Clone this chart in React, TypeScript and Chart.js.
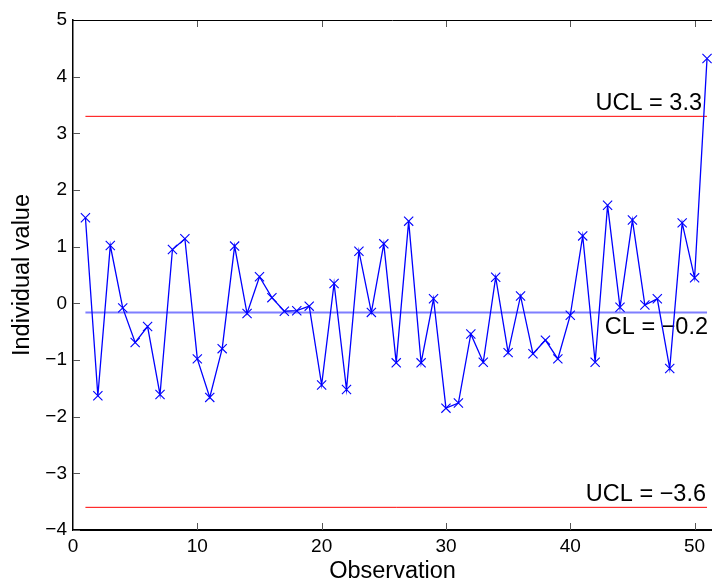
import React, { useEffect, useRef } from "react";
import { Chart, registerables } from "chart.js";

Chart.register(...registerables);

const observations = [
  1, 2, 3, 4, 5, 6, 7, 8, 9, 10, 11, 12, 13, 14, 15, 16, 17, 18, 19, 20,
  21, 22, 23, 24, 25, 26, 27, 28, 29, 30, 31, 32, 33, 34, 35, 36, 37, 38, 39, 40,
  41, 42, 43, 44, 45, 46, 47, 48, 49, 50, 51,
];

const individualValues = [
  1.51, -1.63, 1.02, -0.08, -0.69, -0.41, -1.61, 0.95, 1.14, -0.98,
  -1.66, -0.8, 1.01, -0.18, 0.47, 0.1, -0.14, -0.13, -0.05, -1.44,
  0.35, -1.52, 0.92, -0.16, 1.05, -1.05, 1.45, -1.05, 0.08, -1.85,
  -1.76, -0.54, -1.04, 0.46, -0.87, 0.13, -0.89, -0.65, -0.98, -0.21,
  1.19, -1.04, 1.73, -0.07, 1.47, -0.03, 0.08, -1.15, 1.42, 0.45, 4.32,
];

const upperLimit = 3.3;
const centerLine = -0.16;
const lowerLimit = -3.6;

const limitLabels = ["UCL = 3.3", "CL = \u22120.2", "UCL = \u22123.6"];

const xTickValues = [0, 10, 20, 30, 40, 50];
const yTickValues = [-4, -3, -2, -1, 0, 1, 2, 3, 4, 5];

const FONT = "'Liberation Sans', Arial, Helvetica, sans-serif";

const overlayPlugin = {
  id: "overlay",
  beforeDatasetsDraw(chart: any) {
    const { ctx, scales } = chart;
    const xs = scales.x;
    const ys = scales.y;
    const last = observations[observations.length - 1];
    ctx.save();
    ctx.font = `23.5px ${FONT}`;
    ctx.fillStyle = "#000";
    ctx.textAlign = "right";
    ctx.textBaseline = "alphabetic";
    const xr = xs.getPixelForValue(last);
    ctx.fillText(limitLabels[0], xr - 5, ys.getPixelForValue(upperLimit) - 6);
    ctx.fillText(limitLabels[1], xr + 1, ys.getPixelForValue(centerLine) + 22);
    ctx.fillText(limitLabels[2], xr - 1, ys.getPixelForValue(lowerLimit) - 6);
    ctx.restore();
  },
  afterDraw(chart: any) {
    const { ctx, chartArea, scales } = chart;
    const xs = scales.x;
    const ys = scales.y;
    ctx.save();
    ctx.strokeStyle = "#555";
    ctx.lineWidth = 1;
    const tl = 7;
    for (const v of yTickValues) {
      const y = Math.round(ys.getPixelForValue(v)) + 0.5;
      ctx.beginPath();
      ctx.moveTo(chartArea.left, y);
      ctx.lineTo(chartArea.left + tl, y);
      ctx.stroke();
    }
    for (const v of xTickValues) {
      if (v === 0) continue;
      const x = Math.round(xs.getPixelForValue(v)) + 0.5;
      ctx.beginPath();
      ctx.moveTo(x, chartArea.bottom);
      ctx.lineTo(x, chartArea.bottom - tl);
      ctx.moveTo(x, chartArea.top);
      ctx.lineTo(x, chartArea.top + tl);
      ctx.stroke();
    }
    ctx.strokeStyle = "#000";
    ctx.lineWidth = 1;
    ctx.beginPath();
    ctx.moveTo(chartArea.left, Math.round(chartArea.top) + 0.5);
    ctx.lineTo(chartArea.right, Math.round(chartArea.top) + 0.5);
    ctx.stroke();
    ctx.restore();
  },
};

export default function App() {
  const canvasRef = useRef<HTMLCanvasElement | null>(null);

  useEffect(() => {
    if (!canvasRef.current) return;
    const first = observations[0];
    const last = observations[observations.length - 1];
    const chart = new Chart(canvasRef.current, {
      type: "line",
      data: {
        datasets: [
          {
            label: "Individual value",
            data: observations.map((o, i) => ({ x: o, y: individualValues[i] })),
            borderColor: "#0000ff",
            borderWidth: 1.3,
            pointStyle: "crossRot",
            pointRadius: 6.5,
            pointHoverRadius: 6.5,
            pointBorderColor: "#0000ff",
            pointBorderWidth: 1.1,
            pointBackgroundColor: "#0000ff",
            tension: 0,
            clip: 10,
          },
          {
            label: "CL",
            data: [
              { x: first, y: centerLine },
              { x: last, y: centerLine },
            ],
            borderColor: "rgba(40,40,255,0.6)",
            borderWidth: 2,
            pointRadius: 0,
          },
          {
            label: "UCL",
            data: [
              { x: first, y: upperLimit },
              { x: last, y: upperLimit },
            ],
            borderColor: "#ff0000",
            borderWidth: 1,
            pointRadius: 0,
          },
          {
            label: "LCL",
            data: [
              { x: first, y: lowerLimit },
              { x: last, y: lowerLimit },
            ],
            borderColor: "#ff0000",
            borderWidth: 1,
            pointRadius: 0,
          },
        ],
      },
      options: {
        responsive: false,
        animation: false,
        devicePixelRatio: 1,
        layout: { autoPadding: false, padding: { top: 20, right: 0, left: 0, bottom: 0 } },
        plugins: {
          legend: { display: false },
          tooltip: { enabled: false },
        },
        scales: {
          x: {
            type: "linear",
            min: 0,
            max: 51.4,
            afterBuildTicks: (scale: any) => {
              scale.ticks = xTickValues.map((v) => ({ value: v }));
            },
            afterFit: (scale: any) => {
              scale.height = 53;
              scale.paddingLeft = 0;
              scale.paddingRight = 0;
            },
            grid: { display: false, drawTicks: false },
            border: { display: true, color: "#000", width: 2 },
            ticks: {
              color: "#000",
              font: { family: FONT, size: 19 },
              padding: 5,
              maxRotation: 0,
              autoSkip: false,
            },
            title: {
              display: true,
              text: "Observation",
              color: "#000",
              font: { family: FONT, size: 23.5, lineHeight: 1 },
              padding: { top: 0, bottom: 0 },
            },
          },
          y: {
            type: "linear",
            min: -4,
            max: 5,
            afterBuildTicks: (scale: any) => {
              scale.ticks = yTickValues.map((v) => ({ value: v }));
            },
            afterFit: (scale: any) => {
              scale.width = 73;
            },
            grid: { display: false, drawTicks: false },
            border: { display: true, color: "#000", width: 1.5 },
            ticks: {
              color: "#000",
              font: { family: FONT, size: 19 },
              padding: 6,
              autoSkip: false,
              callback: (v: any) => (Number(v) < 0 ? "\u2212" + Math.abs(Number(v)) : String(v)),
            },
            title: {
              display: true,
              text: "Individual value",
              color: "#000",
              font: { family: FONT, size: 23.5, lineHeight: 1.2 },
              padding: { top: 8, bottom: 0 },
            },
          },
        },
      },
      plugins: [overlayPlugin],
    });
    return () => chart.destroy();
  }, []);

  return (
    <div
      style={{
        position: "fixed",
        left: 0,
        top: 0,
        width: 712,
        height: 583,
        overflow: "hidden",
        background: "#fff",
      }}
    >
      <canvas ref={canvasRef} width={712} height={583} style={{ display: "block" }} />
    </div>
  );
}
